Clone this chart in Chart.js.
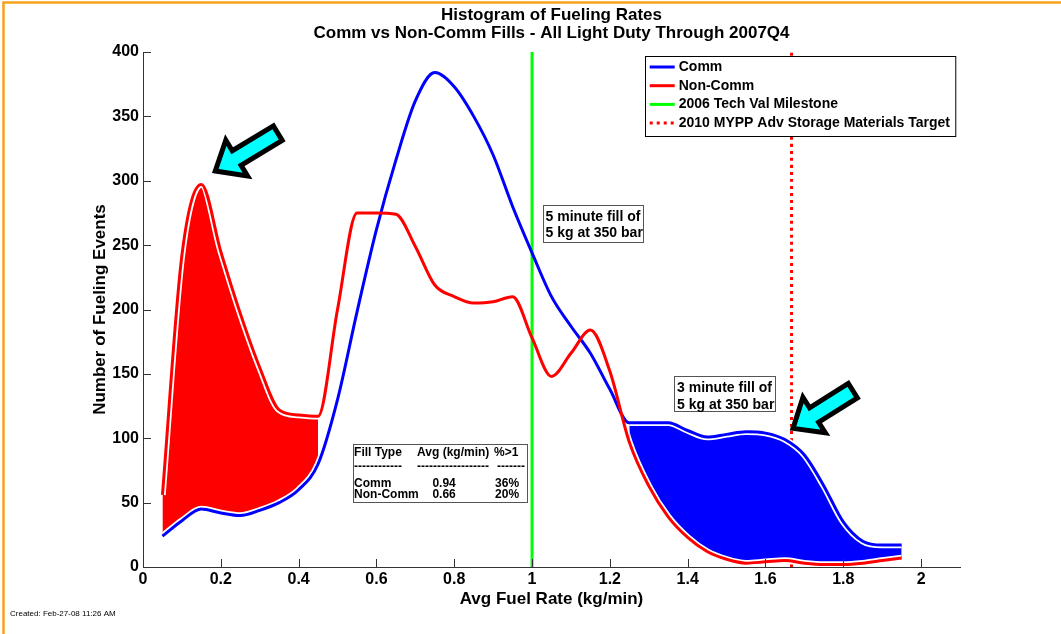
<!DOCTYPE html>
<html>
<head>
<meta charset="utf-8">
<title>Histogram of Fueling Rates</title>
<script src="https://cdn.jsdelivr.net/npm/chart.js@4.4.1/dist/chart.umd.min.js"></script>
<style>
  html, body { margin: 0; padding: 0; background: #fff; }
  #wrap { width: 1061px; height: 634px; }
</style>
</head>
<body>
<div id="wrap"><canvas id="fuelChart" width="1061" height="634"></canvas></div>
<script>
// fuel rate bins (kg/min) and event counts
const rates = [0.05, 0.10, 0.15, 0.20, 0.25, 0.30, 0.35, 0.40, 0.45, 0.50,
               0.55, 0.60, 0.65, 0.70, 0.75, 0.80, 0.85, 0.90, 0.95, 1.00,
               1.05, 1.10, 1.15, 1.20, 1.25, 1.30, 1.35, 1.40, 1.45, 1.50,
               1.55, 1.60, 1.65, 1.70, 1.75, 1.80, 1.85, 1.90, 1.95];
const commEvents = [24, 36, 45, 42, 40, 44, 50, 60, 80, 130,
                    198, 262, 316, 362, 384, 373, 350, 320, 280, 244,
                    210, 187, 166, 138, 112, 112, 112, 106, 101, 103,
                    105, 104, 99, 87, 63, 35, 20, 17, 17];
const nonCommEvents = [56, 242, 297, 245, 197, 155, 122, 118, 117, 200,
                       275, 275, 274, 249, 219, 210, 205, 206, 210, 178,
                       148, 166, 184, 152, 97, 63, 39, 23, 12, 6,
                       3, 4, 5, 3, 2, 2, 3, 5, 7];
const milestoneRate = 1.0;
const targetRate = 1.667;
const nonCommShade = [0.05, 0.45];
const commShade = [1.25, 1.95];

const xTickValues = [0, 0.2, 0.4, 0.6, 0.8, 1, 1.2, 1.4, 1.6, 1.8, 2];
const yTickValues = [0, 50, 100, 150, 200, 250, 300, 350, 400];

const titleLines = ['Histogram of Fueling Rates', 'Comm vs Non-Comm Fills - All Light Duty Through 2007Q4'];
const summaryRows = [
    ['Fill Type', 'Avg (kg/min)', '%>1'],
    ['------------', '------------------', '-------'],
    ['Comm', '0.94', '36%'],
    ['Non-Comm', '0.66', '20%']
];
const fiveMinNote = ['5 minute fill of', '5 kg at 350 bar'];
const threeMinNote = ['3 minute fill of', '5 kg at 350 bar'];
const createdText = 'Created: Feb-27-08 11:26 AM';

const FONT = '"Liberation Sans", Arial, Helvetica, sans-serif';

function pts(values, lo, hi) {
    lo = lo === undefined ? -Infinity : lo;
    hi = hi === undefined ? Infinity : hi;
    return rates.map((x, i) => ({x: x, y: values[i]}))
        .filter(p => p.x >= lo - 1e-9 && p.x <= hi + 1e-9);
}

// white edge between the shaded areas and their bounding curves
const haloPlugin = {
    id: 'halo',
    beforeDatasetDraw(chart, args) {
        const ds = chart.data.datasets[args.index];
        if (!ds.haloRanges) return;
        const ctx = chart.ctx;
        const area = chart.chartArea;
        const xs = chart.scales.x;
        const line = args.meta.dataset;
        line.updateControlPoints(area, 'x');
        ds.haloRanges.forEach(r => {
            const x0 = xs.getPixelForValue(r[0]);
            const x1 = xs.getPixelForValue(r[1]);
            ctx.save();
            ctx.beginPath();
            ctx.rect(x0, area.top, x1 - x0, area.bottom - area.top);
            ctx.clip();
            ctx.beginPath();
            line.path(ctx);
            ctx.lineWidth = 6.5;
            ctx.strokeStyle = '#ffffff';
            ctx.lineJoin = 'round';
            ctx.stroke();
            ctx.restore();
        });
    }
};

function drawArrow(ctx, tip, tail) {
    const dx = tail.x - tip.x, dy = tail.y - tip.y;
    const len = Math.hypot(dx, dy);
    const ux = dx / len, uy = dy / len, nx = -uy, ny = ux;
    const start = 4, end = len - 2.5;
    const headLen = 25, headHalf = 21, shaftHalf = 8.5;
    const P = (a, b) => [tip.x + ux * a + nx * b, tip.y + uy * a + ny * b];
    const poly = [P(start, 0), P(start + headLen, headHalf), P(start + headLen, shaftHalf),
                  P(end, shaftHalf), P(end, -shaftHalf), P(start + headLen, -shaftHalf),
                  P(start + headLen, -headHalf)];
    ctx.save();
    ctx.beginPath();
    poly.forEach((p, i) => i ? ctx.lineTo(p[0], p[1]) : ctx.moveTo(p[0], p[1]));
    ctx.closePath();
    ctx.fillStyle = '#00ffff';
    ctx.fill();
    ctx.lineWidth = 5;
    ctx.lineJoin = 'miter';
    ctx.miterLimit = 10;
    ctx.strokeStyle = '#000000';
    ctx.stroke();
    ctx.restore();
}

function drawNote(ctx, left, top, w, h, lines, lineGap) {
    ctx.save();
    ctx.fillStyle = '#ffffff';
    ctx.fillRect(left, top, w, h);
    ctx.strokeStyle = '#555555';
    ctx.lineWidth = 1;
    ctx.strokeRect(Math.round(left) + 0.5, Math.round(top) + 0.5, w, h);
    ctx.fillStyle = '#000000';
    ctx.font = 'bold 14px ' + FONT;
    ctx.textBaseline = 'middle';
    ctx.textAlign = 'left';
    lines.forEach((t, i) => ctx.fillText(t, left + 3, top + 12 + i * lineGap));
    ctx.restore();
}

const decorPlugin = {
    id: 'decor',
    beforeDraw(chart) {
        const ctx = chart.ctx;
        ctx.save();
        ctx.fillStyle = '#ffffff';
        ctx.fillRect(0, 0, chart.width, chart.height);
        ctx.strokeStyle = '#f6a21c';
        ctx.lineWidth = 2.5;
        ctx.beginPath();
        ctx.moveTo(3.5, 634); ctx.lineTo(3.5, 2.5); ctx.lineTo(1061, 2.5);
        ctx.stroke();
        ctx.restore();
    },
    afterDraw(chart) {
        const ctx = chart.ctx;
        const a = chart.chartArea;
        const xs = chart.scales.x, ys = chart.scales.y;

        // inward tick marks
        ctx.save();
        ctx.strokeStyle = '#333333';
        ctx.lineWidth = 1;
        ctx.beginPath();
        xs.ticks.forEach(t => {
            const px = Math.round(xs.getPixelForValue(t.value)) + 0.5;
            ctx.moveTo(px, a.bottom); ctx.lineTo(px, a.bottom - 8);
        });
        ys.ticks.forEach(t => {
            const py = Math.round(ys.getPixelForValue(t.value)) + 0.5;
            ctx.moveTo(a.left, py); ctx.lineTo(a.left + 8, py);
        });
        ctx.stroke();
        ctx.restore();

        // title
        ctx.save();
        ctx.fillStyle = '#000000';
        ctx.font = 'bold 17px ' + FONT;
        ctx.textAlign = 'center';
        ctx.textBaseline = 'middle';
        const cx = (a.left + a.right) / 2;
        titleLines.forEach((t, i) => ctx.fillText(t, cx, 15 + i * 18.5));
        ctx.font = '8px ' + FONT;
        ctx.textAlign = 'left';
        ctx.fillText(createdText, 10, 614);
        ctx.restore();

        // arrows pointing at the shaded areas
        drawArrow(ctx, {x: xs.getPixelForValue(0.177), y: ys.getPixelForValue(306)},
                       {x: xs.getPixelForValue(0.352), y: ys.getPixelForValue(338)});
        drawArrow(ctx, {x: xs.getPixelForValue(1.662), y: ys.getPixelForValue(106)},
                       {x: xs.getPixelForValue(1.830), y: ys.getPixelForValue(138)});

        // notes
        drawNote(ctx, xs.getPixelForValue(1.027), ys.getPixelForValue(281), 100, 37, fiveMinNote, 16);
        drawNote(ctx, xs.getPixelForValue(1.365), ys.getPixelForValue(148), 101, 35, threeMinNote, 16.5);

        // summary table
        const tl = xs.getPixelForValue(0.540), tt = ys.getPixelForValue(95.5);
        ctx.save();
        ctx.fillStyle = '#ffffff';
        ctx.fillRect(tl, tt, 174, 58);
        ctx.strokeStyle = '#555555';
        ctx.lineWidth = 1;
        ctx.strokeRect(Math.round(tl) + 0.5, Math.round(tt) + 0.5, 174, 58);
        ctx.fillStyle = '#000000';
        ctx.font = 'bold 12px ' + FONT;
        ctx.textBaseline = 'middle';
        const rowY = [9, 23, 40, 51];
        summaryRows.forEach((row, r) => {
            const y = tt + rowY[r];
            ctx.textAlign = 'left';
            ctx.fillText(row[0], tl + 1, y);
            if (r < 2) {
                ctx.fillText(row[1], tl + 64, y);
                ctx.fillText(row[2], tl + (r === 0 ? 141 : 144), y);
            } else {
                ctx.textAlign = 'center';
                ctx.fillText(row[1], tl + 91, y);
                ctx.fillText(row[2], tl + 154, y);
            }
        });
        ctx.restore();

        // legend
        const items = chart.data.datasets.filter(d => d.label);
        ctx.save();
        ctx.font = 'bold 14px ' + FONT;
        const maxW = Math.max(...items.map(d => ctx.measureText(d.label).width));
        const lw = 34 + maxW + 5, lh = 80;
        const lx = a.right - 5 - lw, ly = a.top + 4;
        ctx.fillStyle = '#ffffff';
        ctx.fillRect(lx, ly, lw, lh);
        ctx.strokeStyle = '#000000';
        ctx.lineWidth = 1;
        ctx.strokeRect(Math.round(lx) + 0.5, Math.round(ly) + 0.5, lw, lh);
        ctx.textBaseline = 'middle';
        ctx.textAlign = 'left';
        items.forEach((d, i) => {
            const y = ly + 11 + i * 18.7;
            ctx.beginPath();
            ctx.setLineDash(d.borderDash || []);
            ctx.strokeStyle = d.borderColor;
            ctx.lineWidth = 3;
            ctx.moveTo(lx + 5, y); ctx.lineTo(lx + 30, y);
            ctx.stroke();
            ctx.setLineDash([]);
            ctx.fillStyle = '#000000';
            ctx.fillText(d.label, lx + 34, y);
        });
        ctx.restore();
    }
};

const ctx = document.getElementById('fuelChart').getContext('2d');
const fuelChart = new Chart(ctx, {
    type: 'line',
    data: {
        datasets: [{
            label: 'Comm',
            data: pts(commEvents),
            borderColor: '#0000ff',
            borderWidth: 3,
            haloRanges: [nonCommShade, commShade],
            order: 1
        }, {
            label: 'Non-Comm',
            data: pts(nonCommEvents),
            borderColor: '#ff0000',
            borderWidth: 3,
            haloRanges: [nonCommShade, commShade],
            order: 0
        }, {
            label: '2006 Tech Val Milestone',
            data: [{x: milestoneRate, y: 0}, {x: milestoneRate, y: 400}],
            borderColor: '#00ff00',
            borderWidth: 3,
            order: 4
        }, {
            label: '2010 MYPP Adv Storage Materials Target',
            data: [{x: targetRate, y: 0}, {x: targetRate, y: 400}],
            borderColor: '#ff0000',
            borderWidth: 3,
            borderDash: [3, 4],
            order: 5
        }, {
            data: pts(nonCommEvents, nonCommShade[0], nonCommShade[1]),
            borderWidth: 0,
            backgroundColor: '#ff0000',
            fill: {target: 0},
            order: 2
        }, {
            data: pts(commEvents, commShade[0], commShade[1]),
            borderWidth: 0,
            backgroundColor: '#0000ff',
            fill: {target: 1},
            order: 3
        }]
    },
    options: {
        responsive: false,
        animation: false,
        events: [],
        layout: {padding: {left: 0, top: 52, right: 101, bottom: 0}},
        elements: {
            point: {radius: 0},
            line: {cubicInterpolationMode: 'monotone', borderCapStyle: 'butt'}
        },
        plugins: {
            legend: {display: false},
            tooltip: {enabled: false},
            title: {display: false}
        },
        scales: {
            x: {
                type: 'linear',
                min: 0,
                max: 2.1,
                grid: {display: false, drawTicks: false},
                border: {display: true, color: '#333333', width: 1},
                ticks: {
                    color: '#000000',
                    font: {family: FONT, size: 16, weight: 'bold'},
                    padding: 3,
                    maxRotation: 0,
                    autoSkip: false,
                    callback: v => String(+v.toFixed(1))
                },
                afterBuildTicks: s => { s.ticks = xTickValues.map(v => ({value: v})); },
                afterFit: s => { s.height = 67; },
                title: {
                    display: true,
                    text: 'Avg Fuel Rate (kg/min)',
                    color: '#000000',
                    font: {family: FONT, size: 17, weight: 'bold'},
                    padding: {top: 0, bottom: 24}
                }
            },
            y: {
                min: 0,
                max: 400,
                grid: {display: false, drawTicks: false},
                border: {display: true, color: '#333333', width: 1},
                ticks: {
                    color: '#000000',
                    font: {family: FONT, size: 16, weight: 'bold'},
                    padding: 4,
                    autoSkip: false
                },
                afterBuildTicks: s => { s.ticks = yTickValues.map(v => ({value: v})); },
                afterFit: s => { s.width = 143; },
                title: {
                    display: true,
                    text: 'Number of Fueling Events',
                    color: '#000000',
                    font: {family: FONT, size: 17, weight: 'bold'},
                    padding: {top: 90, bottom: 0}
                }
            }
        }
    },
    plugins: [haloPlugin, decorPlugin]
});
</script>
</body>
</html>
